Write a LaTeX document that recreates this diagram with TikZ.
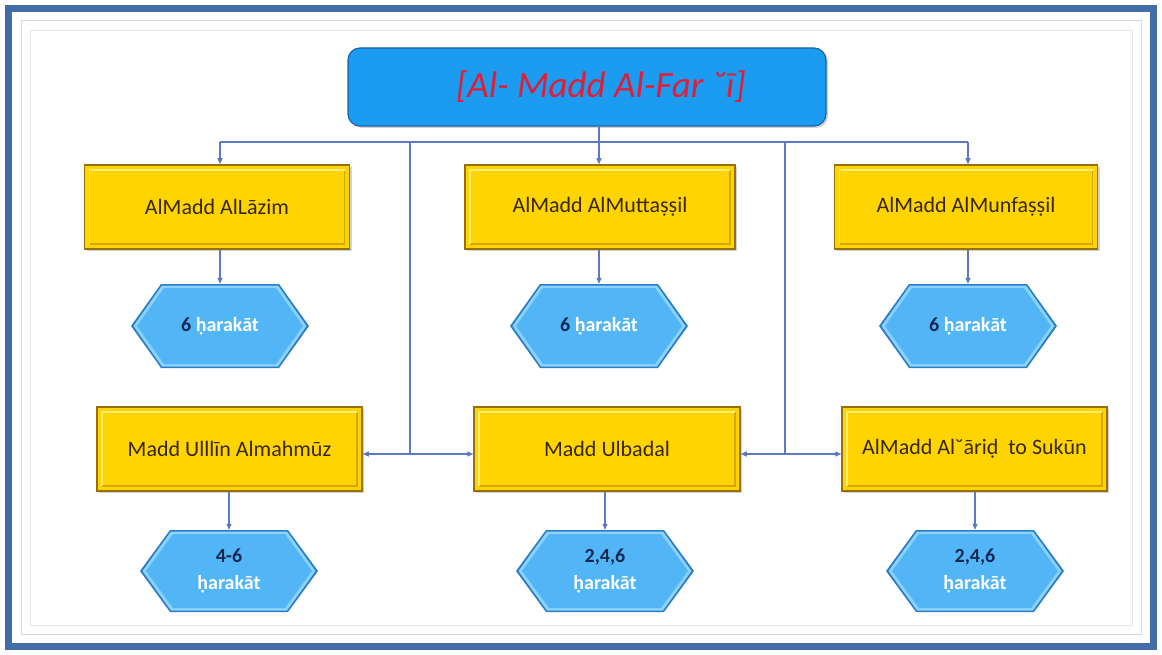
\documentclass[tikz,border=0pt]{standalone}
\usepackage{fontspec}
\setmainfont{Carlito}
\usetikzlibrary{shadows,arrows.meta}
\definecolor{frameblue}{RGB}{66,108,170}
\definecolor{framegray}{RGB}{215,215,220}
\definecolor{topfill}{RGB}{28,156,240}
\definecolor{topdraw}{RGB}{22,100,170}
\definecolor{titlered}{RGB}{225,30,55}
\definecolor{yfill}{RGB}{255,212,0}
\definecolor{ydraw}{RGB}{150,112,10}
\definecolor{ylight}{RGB}{255,236,120}
\definecolor{ydeep}{RGB}{215,165,0}
\definecolor{ytext}{RGB}{55,40,5}
\definecolor{hfill}{RGB}{82,182,246}
\definecolor{hdraw}{RGB}{40,125,200}
\definecolor{hlight}{RGB}{140,210,252}
\definecolor{hnum}{RGB}{20,40,85}
\definecolor{conn}{RGB}{92,122,192}
\tikzset{
  topbox/.style={draw=topdraw, fill=topfill, line width=1.2pt, rounded corners=12pt,
    minimum width=478pt, minimum height=78pt, inner sep=0pt,
    drop shadow={opacity=0.35, shadow xshift=2pt, shadow yshift=-2pt},
    font=\fontsize{37}{42}\selectfont\itshape, text=titlered},
  ybox/.style={draw=ydraw, fill=yfill, line width=1.5pt,
    minimum width=265pt, minimum height=84pt, inner sep=0pt,
    drop shadow={opacity=0.35, shadow xshift=2pt, shadow yshift=-2pt},
    font=\fontsize{22}{26}\selectfont, text=ytext,
    path picture={
      \draw[ydeep, line width=1.2pt]
        ([xshift=5pt,yshift=5pt]path picture bounding box.south west) --
        ([xshift=-5pt,yshift=5pt]path picture bounding box.south east) --
        ([xshift=-5pt,yshift=-5pt]path picture bounding box.north east);
      \draw[ylight, line width=1.2pt]
        ([xshift=5pt,yshift=5pt]path picture bounding box.south west) --
        ([xshift=5pt,yshift=-5pt]path picture bounding box.north west) --
        ([xshift=-5pt,yshift=-5pt]path picture bounding box.north east);
    }},
  hexnode/.style={minimum width=178pt, minimum height=84pt, inner sep=0pt,
    align=center, font=\fontsize{20}{27}\selectfont\bfseries, text=white,
    path picture={
      \path[fill=hdraw]
        ([xshift=30pt]path picture bounding box.north west) --
        ([xshift=-30pt]path picture bounding box.north east) --
        (path picture bounding box.east) --
        ([xshift=-30pt]path picture bounding box.south east) --
        ([xshift=30pt]path picture bounding box.south west) --
        (path picture bounding box.west) -- cycle;
      \path[fill=hlight]
        ([xshift=31pt,yshift=-1.5pt]path picture bounding box.north west) --
        ([xshift=-31pt,yshift=-1.5pt]path picture bounding box.north east) --
        ([xshift=-2.5pt]path picture bounding box.east) --
        ([xshift=-31pt,yshift=1.5pt]path picture bounding box.south east) --
        ([xshift=31pt,yshift=1.5pt]path picture bounding box.south west) --
        ([xshift=2.5pt]path picture bounding box.west) -- cycle;
      \path[fill=hfill]
        ([xshift=33pt,yshift=-4pt]path picture bounding box.north west) --
        ([xshift=-33pt,yshift=-4pt]path picture bounding box.north east) --
        ([xshift=-6pt]path picture bounding box.east) --
        ([xshift=-33pt,yshift=4pt]path picture bounding box.south east) --
        ([xshift=33pt,yshift=4pt]path picture bounding box.south west) --
        ([xshift=6pt]path picture bounding box.west) -- cycle;
    }},
  connline/.style={draw=conn, line width=1.3pt},
  connarrow/.style={connline, -{Triangle[length=6pt,width=5pt]}},
}
\newcommand{\hnum}[1]{\textcolor{hnum}{#1}}
\begin{document}
\begin{tikzpicture}[x=1pt,y=-1pt]
\useasboundingbox (0,0) rectangle (1162,655);
\fill[white] (0,0) rectangle (1162,655);
% frame
\draw[frameblue, line width=7pt] (8.5,8.5) rectangle (1153.5,646.5);
\draw[framegray, line width=1pt] (21,21) rectangle (1141,634);
\draw[framegray!60, line width=0.8pt] (30,30) rectangle (1132,625);

% top
\node[topbox] (top) at (587,87) {\hspace*{28pt}[Al- Madd Al-Far ˘ī]};

% row 1 boxes
\node[ybox] (b1) at (217,207) {AlMadd AlLāzim};
\node[ybox, minimum width=270pt] (b2) at (600,207) {AlMadd AlMuttaṣṣil};
\node[ybox, minimum width=263pt] (b3) at (966,207) {AlMadd AlMunfaṣṣil};

% row 1 hexagons
\node[hexnode] (h1) at (220,326) {\hnum{6} ḥarakāt};
\node[hexnode] (h2) at (599,326) {\hnum{6} ḥarakāt};
\node[hexnode] (h3) at (968,326) {\hnum{6} ḥarakāt};

% row 2 boxes
\node[ybox] (c1) at (229.5,449) {Madd Ulllīn Almahmūz};
\node[ybox, minimum width=266pt] (c2) at (607,449) {Madd Ulbadal};
\node[ybox] (c3) at (974.5,449) {AlMadd Al˘āriḍ\ \ to Sukūn};

% row 2 hexagons
\node[hexnode, minimum height=82pt] (k1) at (229,571) {\hnum{4-6}\\ḥarakāt};
\node[hexnode, minimum height=82pt] (k2) at (605,571) {\hnum{2,4,6}\\ḥarakāt};
\node[hexnode, minimum height=82pt] (k3) at (975,571) {\hnum{2,4,6}\\ḥarakāt};

% connectors
\coordinate (busL) at (220,142);
\coordinate (busR) at (968,142);
\coordinate (top0) at (599,142);
\coordinate (vL) at (410,142);
\coordinate (vR) at (785,142);
\coordinate (jL) at (410,454);
\coordinate (jR) at (785,454);

\draw[connline] (top.south -| top0) -- (top0);
\draw[connline] (busL) -- (busR);
\draw[connarrow] (busL) -- (b1.north -| busL);
\draw[connarrow] (top0) -- (b2.north -| top0);
\draw[connarrow] (busR) -- (b3.north -| busR);

\draw[connarrow] (b1.south -| h1) -- (h1.north);
\draw[connarrow] (b2.south -| h2) -- (h2.north);
\draw[connarrow] (b3.south -| h3) -- (h3.north);

\draw[connline] (vL) -- (jL);
\draw[connline] (vR) -- (jR);
\draw[connarrow] (jL) -- (c1.east |- jL);
\draw[connarrow] (jL) -- (c2.west |- jL);
\draw[connarrow] (jR) -- (c2.east |- jR);
\draw[connarrow] (jR) -- (c3.west |- jR);

\draw[connarrow] (c1.south -| k1) -- (k1.north);
\draw[connarrow] (c2.south -| k2) -- (k2.north);
\draw[connarrow] (c3.south -| k3) -- (k3.north);
\end{tikzpicture}
\end{document}
